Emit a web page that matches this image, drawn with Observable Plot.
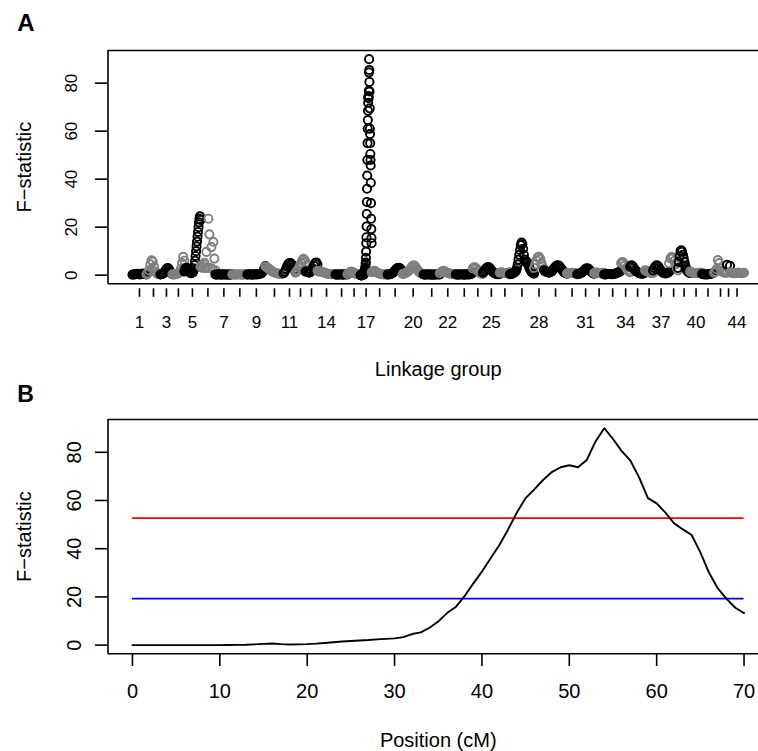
<!DOCTYPE html>
<html><head><meta charset="utf-8">
<script src="https://cdn.jsdelivr.net/npm/d3@7"></script>
<script src="https://cdn.jsdelivr.net/npm/@observablehq/plot@0.6"></script>
<style>
html,body{margin:0;padding:0;background:#fff;overflow:hidden;}
#chart{width:758px;height:751px;position:relative;background:#fff;}
#chart svg{display:block;overflow:hidden;}
</style></head><body><div id="chart"></div>
<script>
// ---------- Panel B: F-statistic profile along linkage group 17 ----------
const positionCM = [0,1,2,3,4,5,6,7,8,9,10,11,12,13,14,15,16,17,18,19,20,21,22,23,24,25,26,27,28,29,30,31,32,33,34,35,36,37,38,39,40,41,42,43,44,45,46,47,48,49,50,51,52,53,54,55,56,57,58,59,60,61,62,63,64,65,66,67,68,69,70];
const fStatB = [0,0,0,0,0,0,0,0,0,0,0,0.05,0.1,0.15,0.3,0.5,0.7,0.4,0.25,0.3,0.4,0.6,0.9,1.2,1.5,1.7,1.9,2.1,2.4,2.6,2.8,3.3,4.6,5.3,7.2,9.8,13.3,15.8,20.3,25.5,30.5,36,41.5,48,55,61,64.6,68.5,71.8,73.8,74.6,73.8,76.8,84.5,90,85.5,80.5,76.5,69.5,61,58.8,55,50.5,48,45.7,38.5,30,23.5,19.2,15.5,13.3];
const thresholdValues = [52.7, 19.3];
const thresholdColors = ["#ff0000", "#0000ff"];
const xTicksB = [0,10,20,30,40,50,60,70];
const yTicks = [0,20,40,60,80];

// ---------- Panel A: marker F-statistics by linkage group ----------
const lgLengths = [89,89,76,76,102,95,108,95,115,115,76,64,76,115,76,83,70,102,95,134,102,102,108,64,108,64,153,64,146,64,108,64,108,57,95,51,102,57,76,76,76,83,19,89];
const lgShownLabels = [1,3,5,7,9,11,14,17,20,22,25,28,31,34,37,40,44];
const lg01 = [0.2,0.4,0.3,0.5,0.6,0.4,0.3,0.5,0.7,0.5,0.4,0.3];
const lg02 = [0.4,0.8,2.0,4.5,6.2,5.6,3.4,1.5,0.8,0.5,0.4,0.3];
const lg03 = [0.3,0.4,0.6,1.0,1.8,2.6,3.0,2.6,1.6,0.8,0.4];
const lg04 = [0.4,0.3,0.3,0.5,0.6,0.8,1.2,2.5,5.0,7.6,6.0];
const lg05 = [1.5,2.0,2.6,3.0,3.1,3.0,2.8,2.5,2.1,1.8,1.5,1.2,1.0,0.9,0.8,0.9,1.0,1.2,1.5,2.0,2.8,4.2,6.0,8.0,10.0,12.0,14.0,16.0,18.0,20.0,22.0,23.5,24.5,23.0];
const lg06 = [3.5,4.0,3.0,4.5,5.2,3.0,9.7,3.0,23.5,17.0,3.0,11.7,2.5,13.8,6.9,2.0];
const lg07 = [0.3,0.2,0.3,0.4,0.3,0.2,0.3,0.4,0.3,0.2,0.3,0.3,0.2,0.3,0.4];
const lg08 = [0.3,0.4,0.3,0.2,0.3,0.4,0.3,0.3,0.2,0.3,0.4,0.3,0.3];
const lg09 = [0.3,0.3,0.4,0.3,0.2,0.3,0.4,0.4,0.3,0.4,0.5,0.6,0.9,1.6,2.7,3.8];
const lg10 = [3.6,3.4,3.0,2.6,2.2,1.8,1.5,1.2,1.0,0.8,0.7,0.6,0.5,0.5,0.6,0.8];
const lg11 = [0.8,1.5,2.5,3.8,4.6,5.0,5.0,4.5,3.5,2.5,1.5];
const lg12 = [1.0,1.5,2.0,3.0,4.0,5.0,6.0,6.8,6.5,5.5];
const lg13 = [1.5,1.5,1.2,1.0,1.2,1.8,2.8,4.0,5.0,5.3,4.5];
const lg14 = [1.8,1.6,1.5,1.4,1.3,1.2,1.0,0.8,0.6,0.5,0.5,0.4,0.4,0.5,0.4,0.3];
const lg15 = [0.3,0.3,0.2,0.3,0.4,0.3,0.2,0.3,0.3,0.4,0.3];
const lg16 = [0.5,0.8,1.2,1.5,1.3,1.0,0.8,0.6,0.5,0.4,0.4,0.3];
const lg17 = fStatB;
const lg18 = [1.2,1.5,1.8,1.6,1.2,0.9,0.7,0.5,0.4,0.4,0.3,0.3,0.3,0.4];
const lg19 = [0.3,0.3,0.4,0.6,0.9,1.4,2.0,2.6,3.0,3.1,2.8,2.2,1.6];
const lg20 = [0.5,0.6,0.8,1.0,1.3,1.8,2.4,3.2,3.8,4.1,3.8,3.0,2.2,1.5,1.0,0.7,0.5,0.4];
const lg21 = [0.3,0.2,0.3,0.3,0.4,0.3,0.2,0.3,0.3,0.2,0.3,0.4,0.3,0.3];
const lg22 = [0.8,1.2,1.6,1.8,1.6,1.3,1.0,0.8,0.7,0.6,0.5,0.5,0.5,0.4];
const lg23 = [0.3,0.3,0.2,0.3,0.4,0.3,0.3,0.2,0.3,0.4,0.3,0.3,0.4,0.6,1.0];
const lg24 = [2.8,3.3,3.2,2.6,1.8,1.2,0.8,0.6,0.5];
const lg25 = [1.0,1.6,2.4,3.0,3.4,3.3,2.8,2.1,1.5,1.0,0.7,0.5,0.4,0.4,0.5];
const lg26 = [1.0,1.2,1.1,0.9,0.8,0.8,0.9,1.0,1.2];
const lg27 = [0.4,0.5,0.5,0.6,0.8,1.0,1.2,1.5,2.0,3.0,4.5,6.5,8.5,10.5,12.5,13.6,13.0,11.0,8.5,6.5,5.5,5.8,5.5,5.0,4.2,3.2,2.4,1.8,1.3,1.0,0.8,0.6];
const lg28 = [3.0,4.5,6.2,7.4,7.6,6.8,5.0,3.5,2.5];
const lg29 = [2.0,1.6,1.3,1.1,1.0,1.2,1.6,2.3,3.0,3.6,4.0,4.1,3.8,3.1,2.3,1.6,1.1,0.8,0.6];
const lg30 = [0.8,0.7,0.8,0.9,1.0,0.9,0.8,0.7,0.8];
const lg31 = [0.4,0.5,0.6,0.8,1.1,1.6,2.1,2.6,2.9,2.8,2.3,1.7,1.2,0.8,0.6];
const lg32 = [0.9,1.0,1.1,1.0,0.9,0.8,0.8,0.9,1.0];
const lg33 = [0.3,0.3,0.4,0.4,0.5,0.5,0.4,0.4,0.5,0.6,0.8,1.0,1.2,1.5,2.0];
const lg34 = [5.0,5.5,5.0,4.0,3.0,2.2,1.6,1.2];
const lg35 = [3.5,4.1,3.8,3.0,2.2,1.6,1.2,0.9,0.7,0.6,0.6,0.8,1.0];
const lg36 = [2.0,1.8,1.5,1.2,1.0,0.9,0.9];
const lg37 = [2.0,3.0,3.8,4.1,3.8,3.0,2.2,1.5,1.0,0.8,0.7,0.8,1.0,1.4];
const lg38 = [5.0,7.0,7.6,7.2,6.0,4.5,3.0,2.0];
const lg39 = [3.0,5.5,8.0,10.0,10.4,9.8,8.5,7.0,5.5,4.0,3.0,2.2,1.6,1.2,1.0,0.9];
const lg40 = [1.5,1.2,1.0,0.9,0.8,0.8,0.9,1.0,1.0,0.9];
const lg41 = [0.5,0.4,0.3,0.3,0.3,0.4,0.5,0.6,0.8,1.0];
const lg42 = [1.0,1.5,2.5,6.3,5.0,2.8,1.8,1.2,1.0,1.0,1.0];
const lg43 = [4.3,3.9];
const lg44 = [1.2,1.0,0.9,0.8,0.8,0.9,1.0,1.0,0.9,0.8,0.9,1.0];
const lgValues = [lg01,lg02,lg03,lg04,lg05,lg06,lg07,lg08,lg09,lg10,lg11,lg12,lg13,lg14,lg15,lg16,lg17,lg18,lg19,lg20,lg21,lg22,lg23,lg24,lg25,lg26,lg27,lg28,lg29,lg30,lg31,lg32,lg33,lg34,lg35,lg36,lg37,lg38,lg39,lg40,lg41,lg42,lg43,lg44];

// ---------- build tables ----------
const markersA = [];
const mids = [];
let cum = 0;
lgValues.forEach((vals, i) => {
  const L = lgLengths[i];
  const pos = (vals === fStatB) ? positionCM : vals.map((_, j) => vals.length > 1 ? L * j / (vals.length - 1) : L / 2);
  vals.forEach((f, j) => markersA.push({lg: i + 1, x: cum + pos[j], f}));
  mids.push(cum + L / 2);
  cum += L;
});
const labelByMid = new Map(mids.map((m, i) => [m, lgShownLabels.includes(i + 1) ? String(i + 1) : ""]));
const curveB = positionCM.map((p, i) => ({pos: p, f: fStatB[i]}));
const thresholds = thresholdValues.map((v, i) => ({value: v, color: thresholdColors[i]}));

function rDomain(ext) { const p = 0.04 * (ext[1] - ext[0]); return [ext[0] - p, ext[1] + p]; }
const xDomA = rDomain([d3.min(markersA, d => d.x), d3.max(markersA, d => d.x)]);
const yDomA = rDomain(d3.extent(markersA, d => d.f));
const xDomB = rDomain(d3.extent(positionCM));
const yDomB = rDomain(d3.extent(fStatB));

const FONT = "Liberation Sans, Arial, Helvetica, sans-serif";
const LW = 1.6;
const HA = 382;           // height of panel A svg
const HB = 751 - HA;      // height of panel B svg

const plotA = Plot.plot({
  width: 758, height: HA,
  marginLeft: 107.5, marginRight: -10, marginTop: 50, marginBottom: HA - 283.3,
  x: {domain: xDomA, label: null},
  y: {domain: yDomA, label: null},
  color: {type: "identity"},
  style: {fontFamily: FONT, background: "white", overflow: "hidden"},
  marks: [
    Plot.dot(markersA, {x: "x", y: "f", r: 4.1, fill: "none", strokeWidth: 1.9,
      stroke: d => d.lg % 2 === 1 ? "#000000" : "#7f7f7f"}),
    Plot.ruleY([yDomA[1]], {strokeWidth: LW}),
    Plot.ruleY([yDomA[0]], {strokeWidth: LW}),
    Plot.ruleX([xDomA[0]], {strokeWidth: LW}),
    Plot.axisX({ticks: mids, tickFormat: d => labelByMid.get(d) ?? "", tickSize: 8.5, dy: 5, tickPadding: 18.7, fontSize: 17, strokeWidth: LW, label: null}),
    Plot.axisY({ticks: yTicks, tickSize: 12.5, tickFormat: () => "", strokeWidth: LW, label: null}),
    Plot.text(yTicks, {y: d => d, text: d => String(d), frameAnchor: "left", dx: -31.5, rotate: -90, textAnchor: "middle", lineAnchor: "bottom", fontSize: 17}),
    Plot.text(["Linkage group"], {text: d => d, frameAnchor: "bottom", dy: 375.5 - 283.3, lineAnchor: "bottom", fontSize: 20}),
    Plot.text(["F\u2212statistic"], {text: d => d, frameAnchor: "left", dx: -77.5, rotate: -90, textAnchor: "middle", lineAnchor: "bottom", fontSize: 20}),
    Plot.text(["A"], {text: d => d, frameAnchor: "top-left", dx: 16.7 - 107.5, dy: 30.7 - 50, textAnchor: "start", lineAnchor: "bottom", fontSize: 24, fontWeight: "bold"})
  ]
});

const plotB = Plot.plot({
  width: 758, height: HB,
  marginLeft: 107.5, marginRight: -10, marginTop: 419 - HA, marginBottom: 751 - 653.3,
  x: {domain: xDomB, label: null},
  y: {domain: yDomB, label: null},
  color: {type: "identity"},
  style: {fontFamily: FONT, background: "white", overflow: "hidden"},
  marks: [
    Plot.ruleY(thresholds, {y: "value", x1: () => positionCM[0], x2: () => positionCM[positionCM.length - 1], stroke: "color", strokeWidth: 1.8}),
    Plot.line(curveB, {x: "pos", y: "f", stroke: "#000000", strokeWidth: 1.9}),
    Plot.ruleY([yDomB[1]], {strokeWidth: LW}),
    Plot.ruleY([yDomB[0]], {strokeWidth: LW}),
    Plot.ruleX([xDomB[0]], {strokeWidth: LW}),
    Plot.axisX({ticks: xTicksB, tickSize: 12.7, tickPadding: 17.3, fontSize: 20, strokeWidth: LW, label: null}),
    Plot.axisY({ticks: yTicks, tickSize: 12.5, tickFormat: () => "", strokeWidth: LW, label: null}),
    Plot.text(yTicks, {y: d => d, text: d => String(d), frameAnchor: "left", dx: -27.5, rotate: -90, textAnchor: "middle", lineAnchor: "bottom", fontSize: 20}),
    Plot.text(["Position (cM)"], {text: d => d, frameAnchor: "bottom", dy: 746 - 653.3, lineAnchor: "bottom", fontSize: 20}),
    Plot.text(["F\u2212statistic"], {text: d => d, frameAnchor: "left", dx: -77.5, rotate: -90, textAnchor: "middle", lineAnchor: "bottom", fontSize: 20}),
    Plot.text(["B"], {text: d => d, frameAnchor: "top-left", dx: 16.7 - 107.5, dy: 401.7 - 419, textAnchor: "start", lineAnchor: "bottom", fontSize: 23, fontWeight: "bold"})
  ]
});

const host = document.getElementById("chart");
host.appendChild(plotA);
host.appendChild(plotB);
</script></body></html>
